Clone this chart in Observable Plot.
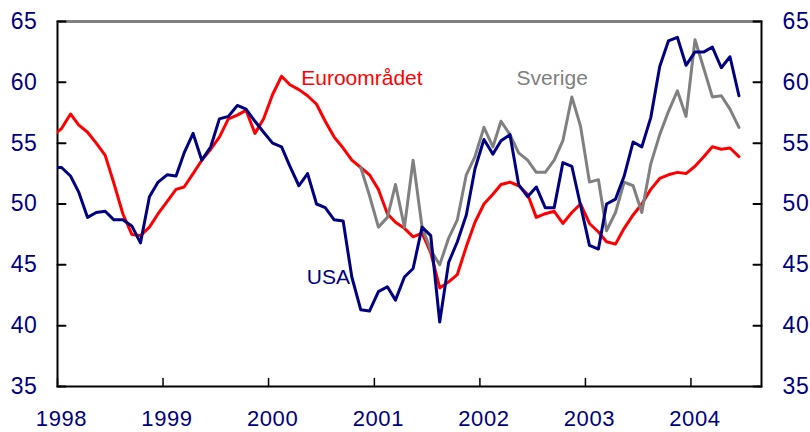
<!DOCTYPE html>
<html>
<head>
<meta charset="utf-8">
<script src="https://cdn.jsdelivr.net/npm/d3@7"></script>
<script src="https://cdn.jsdelivr.net/npm/@observablehq/plot@0.6"></script>
<style>
  html, body { margin: 0; padding: 0; background: #fff; }
  #chart { width: 810px; height: 432px; }
</style>
</head>
<body>
<div id="chart"></div>
<script>
// Monthly values, first value = Dec 1997
const usaStart = [1997, 11];
const usa = [
  53.0,
  53.0, 52.3, 51.0, 48.9, 49.3, 49.4, 48.7, 48.7, 48.2, 46.8, 50.6, 51.8,
  52.4, 52.3, 54.2, 55.8, 53.6, 54.7, 57.0, 57.2, 58.1, 57.8, 56.8, 55.9,
  55.0, 54.7, 53.1, 51.5, 52.5, 50.0, 49.7, 48.7, 48.6, 44.0, 41.3, 41.2,
  42.8, 43.2, 42.1, 44.0, 44.7, 48.1, 47.4, 40.3, 45.2, 46.9, 49.1, 52.9,
  55.3, 54.1, 55.2, 55.7, 51.6, 50.6, 51.4, 49.7, 49.7, 53.4, 53.1, 49.9,
  46.6, 46.3, 50.0, 50.4, 52.3, 55.1, 54.7, 57.1, 61.3, 63.4, 63.7, 61.4,
  62.5, 62.5, 62.9, 61.2, 62.1, 58.9
];

const euroStart = [1997, 11];
const euro = [
  55.6,
  56.2, 57.4, 56.5, 55.9, 55.0, 54.0, 51.7, 49.2, 47.5, 47.4, 48.1, 49.2,
  50.2, 51.2, 51.4, 52.5, 53.6, 54.5, 55.5, 57.0, 57.3, 57.7, 55.8, 57.0,
  59.0, 60.5, 59.8, 59.4, 58.9, 58.2, 56.8, 55.5, 54.6, 53.6, 53.0, 52.4,
  51.2, 49.2, 48.5, 48.0, 47.3, 47.6, 46.0, 43.1, 43.6, 44.2, 46.5, 48.5,
  50.0, 50.8, 51.6, 51.8, 51.5, 50.8, 48.9, 49.2, 49.4, 48.4, 49.3, 50.0,
  48.4, 47.7, 46.9, 46.7, 48.0, 49.1, 50.0, 51.2, 52.1, 52.4, 52.6, 52.5,
  53.1, 53.9, 54.7, 54.5, 54.6, 53.9
];

const sverigeStart = [2000, 10];
const sverige = [
  53.0, 50.7,
  48.1, 48.9, 51.6, 48.1, 53.6, 48.1, 46.2, 45.0, 47.2, 48.7, 52.4, 53.9,
  56.3, 54.7, 56.8, 55.7, 54.2, 53.6, 52.6, 52.6, 53.6, 55.2, 58.8, 56.4,
  51.8, 52.0, 47.8, 49.3, 51.8, 51.5, 49.3, 53.3, 55.7, 57.6, 59.3, 57.2,
  63.5, 61.1, 58.8, 58.9, 57.8, 56.3
];

const seriesNames = ["Euroområdet", "USA", "Sverige"];
const yearTicks = [1998, 1999, 2000, 2001, 2002, 2003, 2004];
const yTicks = [35, 40, 45, 50, 55, 60, 65];

function toRows(start, values, name) {
  return values.map((v, i) => ({
    date: new Date(Date.UTC(start[0], start[1] + i, 15)),
    value: v,
    name
  }));
}

const euroRows = toRows(euroStart, euro, seriesNames[0]);
const usaRows = toRows(usaStart, usa, seriesNames[1]);
const sveRows = toRows(sverigeStart, sverige, seriesNames[2]);

const navy = "#000080";
const red = "#ff0000";
const gray = "#808080";
const font = "Arial, 'Liberation Sans', Helvetica, sans-serif";

const labelRows = [
  {name: seriesNames[0], date: new Date(Date.UTC(2000, 3, 23)), value: 60.35, color: red},
  {name: seriesNames[1], date: new Date(Date.UTC(2000, 4, 12)), value: 44.0, color: navy},
  {name: seriesNames[2], date: new Date(Date.UTC(2002, 4, 8)), value: 60.35, color: gray}
];

const yearDates = yearTicks.map(y => new Date(Date.UTC(y, 0, 1)));

// straight tick shape for vector marks
const tickShape = {draw(context, l) { context.moveTo(0, 0); context.lineTo(0, -l); }};

const chart = Plot.plot({
  width: 810,
  height: 432,
  marginLeft: 57,
  marginRight: 49,
  marginTop: 21,
  marginBottom: 46,
  style: {fontFamily: font, background: "#fff", overflow: "visible"},
  x: {type: "utc", domain: [new Date(Date.UTC(1998, 0, 1)), new Date(Date.UTC(2004, 8, 1))]},
  y: {domain: [35, 65]},
  marks: [
    Plot.frame({stroke: "#000", strokeWidth: 2}),
    Plot.ruleY([65], {stroke: gray, strokeWidth: 2}),
    Plot.lineY(euroRows, {x: "date", y: "value", stroke: red, strokeWidth: 3, clip: true}),
    Plot.lineY(sveRows, {x: "date", y: "value", stroke: gray, strokeWidth: 3, clip: true}),
    Plot.lineY(usaRows, {x: "date", y: "value", stroke: navy, strokeWidth: 3, clip: true}),
    Plot.text(labelRows, {x: "date", y: "value", text: "name", fill: "color", textAnchor: "start", lineAnchor: "middle", fontSize: 21}),
    // inward ticks
    Plot.vector(yTicks, {y: d => d, frameAnchor: "left", rotate: 90, length: 8, anchor: "start", shape: tickShape, stroke: "#000", strokeWidth: 2}),
    Plot.vector(yTicks, {y: d => d, frameAnchor: "right", rotate: -90, length: 8, anchor: "start", shape: tickShape, stroke: "#000", strokeWidth: 2}),
    Plot.vector(yearDates, {x: d => d, frameAnchor: "bottom", rotate: 0, length: 8, anchor: "start", shape: tickShape, stroke: "#000", strokeWidth: 1.5}),
    // tick labels
    Plot.axisY(yTicks, {anchor: "left", tickSize: 0, tickPadding: 20, fontSize: 23, fill: navy, label: null}),
    Plot.axisY(yTicks, {anchor: "right", tickSize: 0, tickPadding: 21, fontSize: 23, fill: navy, label: null}),
    Plot.axisX(yearDates, {anchor: "bottom", tickSize: 0, tickPadding: 24, fontSize: 22, dx: 4, fill: navy, tickFormat: d3.utcFormat("%Y"), label: null})
  ]
});

chart.querySelectorAll("text").forEach(t => {
  if (t.closest("[aria-label$='tick label']")) t.setAttribute("letter-spacing", "0.6");
});
document.getElementById("chart").appendChild(chart);
</script>
</body>
</html>
